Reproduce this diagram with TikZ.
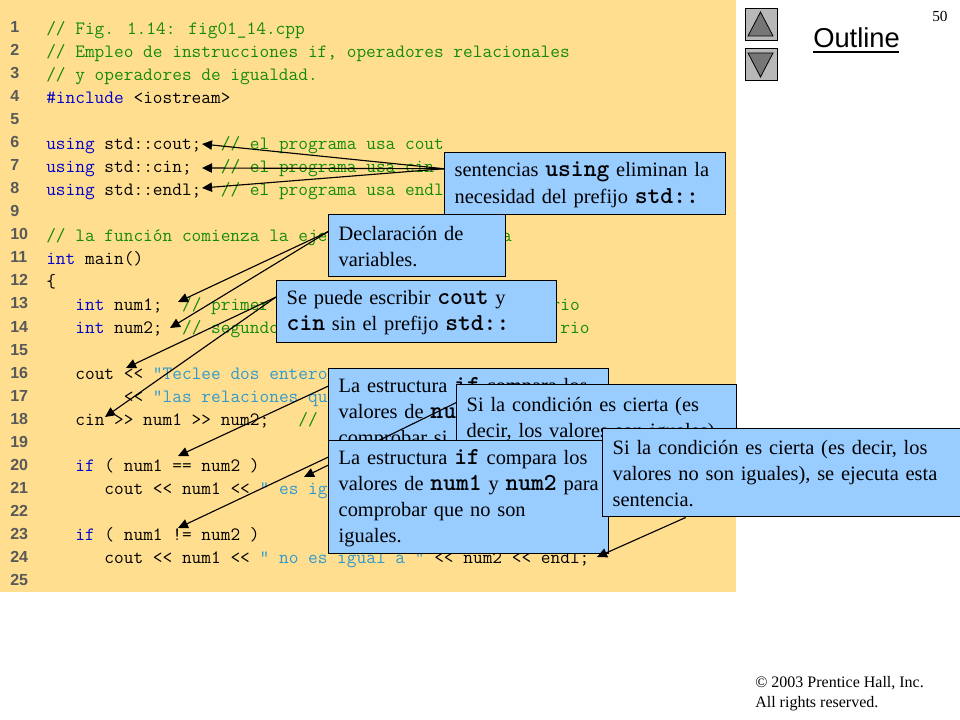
\documentclass[tikz,border=0pt]{standalone}
\usepackage{fontspec}
\setmainfont{Liberation Serif}
\newfontfamily\numfont{Liberation Sans}
\usetikzlibrary{arrows.meta}
\definecolor{pagebg}{HTML}{FFDF8F}
\definecolor{boxblue}{HTML}{99CCFF}
\definecolor{cmt}{HTML}{158A0A}
\definecolor{kw}{HTML}{0000CC}
\definecolor{strc}{HTML}{3399CC}
\definecolor{numc}{HTML}{595959}
\definecolor{btn}{HTML}{B8B8B8}
\definecolor{btntri}{HTML}{767676}
\newcommand{\bmono}[1]{{\ttfamily\bfseries\fontsize{18.3}{20}\selectfont #1}}
\newcommand{\codeat}[5]{\node[codetext,text=#1] (#2) at ({46+9.7*#3},{34.5+23*(#4-1)}) {#5};}
\newcommand{\numat}[1]{\node[numtext] (n#1) at (10,{33+23*(#1-1)}) {#1};}
\tikzset{
  codetext/.style={anchor=base west,inner sep=0pt,font=\ttfamily\fontsize{14.12}{16}\selectfont},
  numtext/.style={anchor=base west,inner sep=0pt,text=numc,font=\numfont\bfseries\fontsize{12}{14}\selectfont},
  callout/.style={anchor=north west,draw=black,line width=1.1pt,fill=boxblue,inner xsep=7.5pt,inner ysep=0pt,align=left,font=\fontsize{15.3}{19.7}\selectfont,execute at end node={\par\vspace{-1.5pt}}},
  pointer/.style={draw=black,line width=0.85pt,-{Triangle[length=7.5pt,width=7pt]}},
  navbtn/.style={draw=black,line width=0.9pt,fill=btn},
  navtri/.style={draw=black,line width=0.6pt,fill=btntri},
  plain/.style={anchor=base west,inner sep=0pt}
}
\begin{document}
\begin{tikzpicture}[x=0.75pt,y=-0.75pt]
\useasboundingbox (0,0) rectangle (960,720);
\fill[white] (0,0) rectangle (960,720);
\fill[pagebg] (0,0) rectangle (736,592);

\foreach \n in {1,...,25}{\numat{\n}}

\codeat{cmt}{c1}{0}{1}{// Fig. 1.14: fig01\_14.cpp}
\codeat{cmt}{c2}{0}{2}{// Empleo de instrucciones if, operadores relacionales}
\codeat{cmt}{c3}{0}{3}{// y operadores de igualdad.}
\codeat{kw}{c4a}{0}{4}{\#include}
\codeat{black}{c4b}{9}{4}{<iostream>}
\codeat{kw}{c6a}{0}{6}{using}
\codeat{black}{c6b}{6}{6}{std::cout;}
\codeat{cmt}{c6c}{18}{6}{// el programa usa cout}
\codeat{kw}{c7a}{0}{7}{using}
\codeat{black}{c7b}{6}{7}{std::cin;}
\codeat{cmt}{c7c}{18}{7}{// el programa usa cin}
\codeat{kw}{c8a}{0}{8}{using}
\codeat{black}{c8b}{6}{8}{std::endl;}
\codeat{cmt}{c8c}{18}{8}{// el programa usa endl}
\codeat{cmt}{c10a}{0}{10}{// la función comienza la ejec}
\codeat{cmt}{c10b}{47}{10}{a}
\codeat{kw}{c11a}{0}{11}{int}
\codeat{black}{c11b}{4}{11}{main()}
\codeat{black}{c12}{0}{12}{\{}
\codeat{kw}{c13a}{3}{13}{int}
\codeat{black}{c13b}{7}{13}{num1;}
\codeat{cmt}{c13c}{14}{13}{// primer}
\codeat{cmt}{c13d}{52}{13}{rio}
\codeat{kw}{c14a}{3}{14}{int}
\codeat{black}{c14b}{7}{14}{num2;}
\codeat{cmt}{c14c}{14}{14}{// segundo}
\codeat{cmt}{c14d}{53}{14}{rio}
\codeat{black}{c16a}{3}{16}{cout <<}
\codeat{strc}{c16b}{11}{16}{“Teclee dos entero}
\codeat{black}{c17a}{8}{17}{<<}
\codeat{strc}{c17b}{11}{17}{“las relaciones qu}
\codeat{black}{c18a}{3}{18}{cin >> num1 >> num2;}
\codeat{cmt}{c18b}{26}{18}{//}
\codeat{kw}{c20a}{3}{20}{if}
\codeat{black}{c20b}{6}{20}{( num1 == num2 )}
\codeat{black}{c21a}{6}{21}{cout << num1 <<}
\codeat{strc}{c21b}{22}{21}{" es ig}
\codeat{kw}{c23a}{3}{23}{if}
\codeat{black}{c23b}{6}{23}{( num1 != num2 )}
\codeat{black}{c24a}{6}{24}{cout << num1 <<}
\codeat{strc}{c24b}{22}{24}{" no es igual a "}
\codeat{black}{c24c}{40}{24}{<< num2 << endl;}

% using
\coordinate (t1) at (202,144);
\coordinate (t2) at (202,168);
\coordinate (t3) at (202,188);
\node[callout,text width=260.5*0.75pt,minimum height=62*0.75pt] (using) at (444,152)
  {sentencias \bmono{using} eliminan la\\necesidad del prefijo \bmono{std::}};
\draw[pointer] (using.west) ++(0,-15) -- (t1);
\draw[pointer] (using.west) ++(0,-15) -- (t2);
\draw[pointer] (using.west) ++(0,-15) -- (t3);

% declaracion
\coordinate (t4) at (178,302);
\coordinate (t5) at (170,328);
\node[callout,text width=157*0.75pt,minimum height=62*0.75pt] (decl) at (328,214)
  {Declaración de\\variables.};
\draw[pointer] ([yshift=10.5pt]decl.west) -- (t4);
\draw[pointer] ([yshift=10.5pt]decl.west) -- (t5);

% cout cin
\coordinate (t6) at (126,368);
\coordinate (t7) at (105,417);
\node[callout,text width=260*0.75pt,minimum height=62*0.75pt] (prefijo) at (276,280)
  {Se puede escribir \bmono{cout} y\\\bmono{cin} sin el prefijo \bmono{std::}};
\draw[pointer] ([yshift=11pt]prefijo.west) -- (t6);
\draw[pointer] ([yshift=11pt]prefijo.west) -- (t7);

% if 1
\coordinate (t8) at (178,456);
\node[callout,text width=260*0.75pt,minimum height=87*0.75pt] (ifa) at (328,368)
  {La estructura \bmono{if} compara los\\valores de \bmono{num1}\\comprobar si};
\draw[pointer] ([yshift=19.5pt]ifa.west) -- (t8);

% si 1
\coordinate (t9) at (304,477);
\node[callout,text width=260*0.75pt,minimum height=90*0.75pt] (sia) at (456,384)
  {Si la condición es cierta (es\\decir, los valores son iguales)\\~};
\draw[pointer] ([yshift=20.25pt]sia.west) -- (t9);

% if 2
\coordinate (t10) at (178,528);
\node[callout,text width=260*0.75pt,minimum height=113*0.75pt] (ifb) at (328,440)
  {La estructura \bmono{if} compara los\\valores de \bmono{num1} y \bmono{num2} para\\comprobar que no son\\iguales.};
\draw[pointer] ([yshift=30pt]ifb.west) -- (t10);

% si 2
\coordinate (t11) at (597,557);
\node[callout,text width=338*0.75pt,minimum height=88*0.75pt] (sib) at (602,428)
  {Si la condición es cierta (es decir, los\\valores no son iguales), se ejecuta esta\\sentencia.};
\draw[pointer] ([xshift=-72pt]sib.south) -- (t11);

% right column
\node[navbtn,anchor=north west,minimum width=32*0.75pt,minimum height=32*0.75pt,inner sep=0pt] (up) at (745,8) {};
\node[navbtn,anchor=north west,minimum width=32*0.75pt,minimum height=32*0.75pt,inner sep=0pt] (down) at (745,48) {};
\fill[navtri] (760.5,12) -- (773,36) -- (748,36) -- cycle;
\fill[navtri] (760.5,77) -- (773,53) -- (748,53) -- cycle;
\node[plain,font=\numfont\fontsize{20.5}{24}\selectfont] (outline) at (813,48) {Outline};
\draw[line width=1.5pt] (813,52) -- (899,52);
\node[plain,font=\fontsize{11.5}{14}\selectfont] (page) at (932,22) {50};
\node[plain,font=\fontsize{12}{14}\selectfont] (copy1) at (755,687) {© 2003 Prentice Hall, Inc.};
\node[plain,font=\fontsize{12}{14}\selectfont] (copy2) at (755,707) {All rights reserved.};
\end{tikzpicture}
\end{document}
